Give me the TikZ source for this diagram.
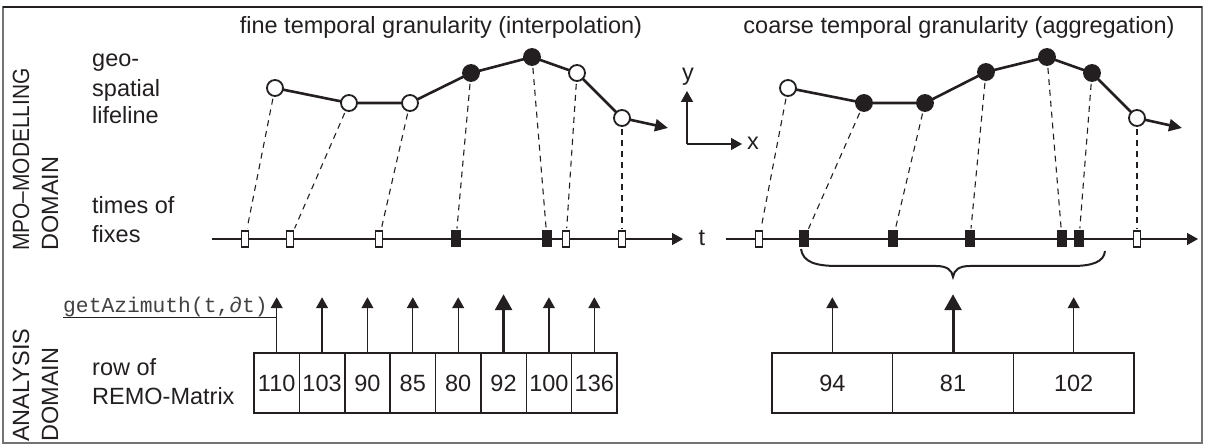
\documentclass[tikz,border=0pt]{standalone}
\usepackage{fontspec}
\setmainfont{Liberation Sans}
\newfontfamily\monofam{Liberation Mono}
\usetikzlibrary{arrows.meta}
\definecolor{ink}{RGB}{35,31,32}
\begin{document}
\begin{tikzpicture}[x=1pt,y=-1pt,
  txt/.style={font=\fontsize{23.5}{28}\selectfont, inner sep=0pt, text=ink, anchor=base west},
  ttl/.style={font=\fontsize{23.5}{28}\selectfont, inner sep=0pt, text=ink, anchor=base},
  sidelbl/.style={font=\fontsize{23.5}{28}\selectfont, inner sep=0pt, text=ink, anchor=base west, rotate=90},
  lifeline/.style={line width=2.6pt, draw=ink},
  lifearrow/.style={line width=2.6pt, draw=ink, -{Triangle[length=13pt,width=12pt]}},
  opencirc/.style={circle, draw=ink, line width=1.8pt, fill=white, minimum size=16pt, inner sep=0pt},
  fullcirc/.style={circle, draw=ink, line width=1.8pt, fill=ink, minimum size=16pt, inner sep=0pt},
  openfix/.style={rectangle, draw=ink, line width=1.6pt, fill=white, minimum width=7pt, minimum height=16pt, inner sep=0pt},
  fullfix/.style={rectangle, draw=ink, line width=1pt, fill=ink, minimum width=9pt, minimum height=16pt, inner sep=0pt},
  fixline/.style={draw=ink, line width=1.1pt, dash pattern=on 6pt off 5pt, shorten <=2pt, shorten >=2pt},
  taxis/.style={draw=ink, line width=1.3pt, -{Triangle[length=11pt,width=12pt]}},
  cell/.style={rectangle, draw=ink, line width=1.5pt, minimum height=60pt, inner sep=0pt, font=\fontsize{23.5}{28}\selectfont, text=ink},
  uparrow/.style={draw=ink, line width=1.3pt, -{Triangle[length=11pt,width=12pt]}},
  bigarrow/.style={draw=ink, line width=3pt, -{Triangle[length=16pt,width=17pt]}},
]
\useasboundingbox (0,0) rectangle (1205,446);
% frame
\draw[line width=1.5pt, black!55] (3,7) rectangle (1202,443);
\draw[line width=1.5pt, ink] (3,7) -- (1202,7);

% titles
\node[ttl] (t1) at (441,34) {fine temporal granularity (interpolation)};
\node[ttl] (t2) at (959,34) {coarse temporal granularity (aggregation)};

% side labels
\node[sidelbl] (s1) at (29,251) {\scalebox{0.89}[1]{MPO–MODELLING}};
\node[sidelbl] (s2) at (58,251) {DOMAIN};
\node[sidelbl] (s3) at (29,442) {ANALYSIS};
\node[sidelbl] (s4) at (58,442) {DOMAIN};

% left labels
\node[txt] (l1) at (92,67) {geo-};
\node[txt] (l2) at (92,97) {spatial};
\node[txt] (l3) at (92,124) {lifeline};
\node[txt] (l4) at (92,214) {times of};
\node[txt] (l5) at (92,243) {fixes};
\node[txt] (l6) at (92,375) {row of};
\node[txt] (l7) at (92,404) {REMO-Matrix};

% lifeline 1
\coordinate (p1) at (275,88);
\coordinate (p2) at (349,103);
\coordinate (p3) at (410,103);
\coordinate (p4) at (471,73);
\coordinate (p5) at (532,57);
\coordinate (p6) at (577,73);
\coordinate (p7) at (622,118);
\coordinate (e1) at (668,128);
\draw[lifeline] (p1) -- (p2) -- (p3) -- (p4) -- (p5) -- (p6) -- (p7);
\draw[lifearrow] (p7) -- (e1);
\node[opencirc] (c1) at (p1) {};
\node[opencirc] (c2) at (p2) {};
\node[opencirc] (c3) at (p3) {};
\node[fullcirc] (c4) at (p4) {};
\node[fullcirc] (c5) at (p5) {};
\node[opencirc] (c6) at (p6) {};
\node[opencirc] (c7) at (p7) {};

% lifeline 2
\coordinate (q1) at (788,88);
\coordinate (q2) at (864,103);
\coordinate (q3) at (925,103);
\coordinate (q4) at (986,72);
\coordinate (q5) at (1047,57);
\coordinate (q6) at (1092,73);
\coordinate (q7) at (1137,118);
\coordinate (e2) at (1182,128);
\draw[lifeline] (q1) -- (q2) -- (q3) -- (q4) -- (q5) -- (q6) -- (q7);
\draw[lifearrow] (q7) -- (e2);
\node[opencirc] (d1) at (q1) {};
\node[fullcirc] (d2) at (q2) {};
\node[fullcirc] (d3) at (q3) {};
\node[fullcirc] (d4) at (q4) {};
\node[fullcirc] (d5) at (q5) {};
\node[fullcirc] (d6) at (q6) {};
\node[opencirc] (d7) at (q7) {};

% xy frame
\coordinate (o) at (687,144);
\coordinate (oy) at (687,91);
\coordinate (ox) at (742,144);
\draw[uparrow, line width=1.5pt] (o) -- (oy);
\draw[uparrow, line width=1.5pt] (o) -- (ox);
\node[ttl] (ylbl) at (688,81) {y};
\node[ttl] (xlbl) at (753,150) {x};

% time axis 1
\coordinate (a1s) at (212,239);
\coordinate (a1e) at (683,239);
\draw[taxis] (a1s) -- (a1e);
\node[ttl] (tlbl) at (702,246) {t};
\node[openfix] (m1) at (245,239) {};
\node[openfix] (m2) at (290,239) {};
\node[openfix] (m3) at (379,239) {};
\node[fullfix] (m4) at (456,239) {};
\node[fullfix] (m5) at (547,239) {};
\node[openfix] (m6) at (566,239) {};
\node[openfix] (m7) at (622,239) {};

% time axis 2
\coordinate (a2s) at (726,239);
\coordinate (a2e) at (1198,239);
\draw[taxis] (a2s) -- (a2e);
\node[openfix] (n1) at (759,239) {};
\node[fullfix] (n2) at (804,239) {};
\node[fullfix] (n3) at (893,239) {};
\node[fullfix] (n4) at (970,239) {};
\node[fullfix] (n5) at (1062,239) {};
\node[fullfix] (n6) at (1079,239) {};
\node[openfix] (n7) at (1137,239) {};

% dashed links
\foreach \i in {1,...,7} {
  \draw[fixline] (c\i) -- (m\i);
  \draw[fixline] (d\i) -- (n\i);
}

% brace
\draw[line width=2pt, ink] (801,249) .. controls (803,262) and (815,266) .. (838,266)
  -- (936,266) .. controls (947,266) and (952,270) .. (953,277)
  .. controls (954,270) and (959,266) .. (970,266)
  -- (1072,266) .. controls (1092,266) and (1104,262) .. (1105,251);

% REMO row 1
\foreach \v [count=\i] in {110,103,90,85,80,92,100,136} {
  \node[cell, minimum width=45.375pt] (r\i) at ({254+45.375*(\i-0.5)},383) {\v};
}
\foreach \i in {1,2,3,4,5,7,8} {
  \coordinate (ra\i) at ([yshift=55pt]r\i.north);
  \draw[uparrow] (r\i.north) -- (ra\i);
}
\coordinate (ra6) at ([yshift=58pt]r6.north);
\draw[bigarrow] (r6.north) -- (ra6);

% getAzimuth label
\node[anchor=base west, inner sep=0pt, font=\monofam\fontsize{21.3}{24}\selectfont, text=ink!85] (ga) at (63,313) {getAzimuth(t,∂t)};
\coordinate (u1) at (63,318);
\coordinate (u2) at (r1.north |- u1);
\draw[ink, line width=1pt] (u1) -- (u2);

% REMO row 2
\foreach \v [count=\i] in {94,81,102} {
  \node[cell, minimum width=120.67pt] (g\i) at ({772+120.67*(\i-0.5)},383) {\v};
}
\coordinate (ga1) at ([yshift=55pt]g1.north);
\coordinate (ga3) at ([yshift=55pt]g3.north);
\coordinate (ga2) at ([yshift=58pt]g2.north);
\draw[uparrow] (g1.north) -- (ga1);
\draw[uparrow] (g3.north) -- (ga3);
\draw[bigarrow] (g2.north) -- (ga2);
\end{tikzpicture}
\end{document}
